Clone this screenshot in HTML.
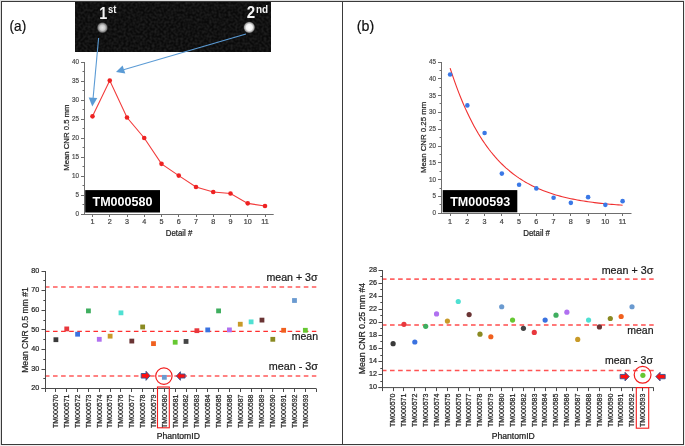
<!DOCTYPE html>
<html><head><meta charset="utf-8"><title>CNR figure</title>
<style>
html,body{margin:0;padding:0;background:#fff;}
body{width:685px;height:446px;overflow:hidden;}
svg{display:block;font-family:"Liberation Sans", sans-serif;will-change:transform;}
</style></head>
<body>
<svg width="685" height="446" viewBox="0 0 685 446" font-family='"Liberation Sans", sans-serif'>
<rect x="0" y="0" width="685" height="446" fill="#fff"/>
<rect x="0" y="0" width="685" height="1" fill="#dedede"/>
<rect x="0" y="0" width="1" height="446" fill="#dedede"/>
<rect x="684" y="0" width="1" height="446" fill="#efefef"/>
<rect x="0" y="445" width="685" height="1" fill="#efefef"/>
<rect x="1.5" y="1.5" width="682" height="443" fill="none" stroke="#3a3a3a" stroke-width="1"/>
<line x1="342.5" y1="1" x2="342.5" y2="445" stroke="#3a3a3a" stroke-width="1"/>
<text stroke="#111" stroke-width="0.22" x="9.6" y="31.3" font-size="15" fill="#111" textLength="16.6" lengthAdjust="spacingAndGlyphs">(a)</text>
<text stroke="#111" stroke-width="0.22" x="356.8" y="31.3" font-size="15" fill="#111" textLength="17.4" lengthAdjust="spacingAndGlyphs">(b)</text>
<defs><radialGradient id="d1"><stop offset="0" stop-color="#e4e4e4"/><stop offset="0.45" stop-color="#c8c8c8"/><stop offset="0.75" stop-color="#7a7a7a"/><stop offset="1" stop-color="#1a1a1a" stop-opacity="0"/></radialGradient><radialGradient id="d2"><stop offset="0" stop-color="#ffffff"/><stop offset="0.5" stop-color="#f2f2f2"/><stop offset="0.78" stop-color="#9a9a9a"/><stop offset="1" stop-color="#1a1a1a" stop-opacity="0"/></radialGradient><filter id="nz" x="0" y="0" width="1" height="1"><feTurbulence type="fractalNoise" baseFrequency="0.42" numOctaves="1" seed="3"/><feColorMatrix values="0 0 0 0 0.18  0 0 0 0 0.18  0 0 0 0 0.18  0 0 0 -1.6 1.1"/></filter></defs>
<rect x="75" y="2" width="196" height="50" fill="#0a0a0a"/>
<rect x="75" y="2" width="196" height="50" filter="url(#nz)" opacity="0.26"/>
<circle cx="102.4" cy="27.7" r="6" fill="url(#d1)"/>
<circle cx="249.3" cy="27.4" r="6.3" fill="url(#d2)"/>
<text x="99.3" y="18.9" font-size="16.5" font-weight="bold" fill="#f4f4f4" textLength="8" lengthAdjust="spacingAndGlyphs">1</text>
<text x="108" y="12.9" font-size="10.2" font-weight="bold" fill="#f4f4f4" textLength="8.4" lengthAdjust="spacingAndGlyphs">st</text>
<text x="246.8" y="18.3" font-size="15.8" font-weight="bold" fill="#f4f4f4" textLength="8.4" lengthAdjust="spacingAndGlyphs">2</text>
<text x="256" y="12.9" font-size="10.2" font-weight="bold" fill="#f4f4f4" textLength="12.2" lengthAdjust="spacingAndGlyphs">nd</text>
<line x1="84.5" y1="62" x2="84.5" y2="214" stroke="#6e6e6e" stroke-width="1"/>
<line x1="81" y1="214.5" x2="84.5" y2="214.5" stroke="#6e6e6e" stroke-width="1"/>
<text stroke="#4a4a4a" stroke-width="0.22" x="79" y="215.9" font-size="7.6" fill="#4a4a4a" text-anchor="end" textLength="3.5" lengthAdjust="spacingAndGlyphs">0</text>
<line x1="81" y1="195.5" x2="84.5" y2="195.5" stroke="#6e6e6e" stroke-width="1"/>
<text stroke="#4a4a4a" stroke-width="0.22" x="79" y="196.9" font-size="7.6" fill="#4a4a4a" text-anchor="end" textLength="3.5" lengthAdjust="spacingAndGlyphs">5</text>
<line x1="81" y1="176.5" x2="84.5" y2="176.5" stroke="#6e6e6e" stroke-width="1"/>
<text stroke="#4a4a4a" stroke-width="0.22" x="79" y="177.9" font-size="7.6" fill="#4a4a4a" text-anchor="end" textLength="7" lengthAdjust="spacingAndGlyphs">10</text>
<line x1="81" y1="157.5" x2="84.5" y2="157.5" stroke="#6e6e6e" stroke-width="1"/>
<text stroke="#4a4a4a" stroke-width="0.22" x="79" y="158.9" font-size="7.6" fill="#4a4a4a" text-anchor="end" textLength="7" lengthAdjust="spacingAndGlyphs">15</text>
<line x1="81" y1="138.5" x2="84.5" y2="138.5" stroke="#6e6e6e" stroke-width="1"/>
<text stroke="#4a4a4a" stroke-width="0.22" x="79" y="139.9" font-size="7.6" fill="#4a4a4a" text-anchor="end" textLength="7" lengthAdjust="spacingAndGlyphs">20</text>
<line x1="81" y1="119.5" x2="84.5" y2="119.5" stroke="#6e6e6e" stroke-width="1"/>
<text stroke="#4a4a4a" stroke-width="0.22" x="79" y="120.9" font-size="7.6" fill="#4a4a4a" text-anchor="end" textLength="7" lengthAdjust="spacingAndGlyphs">25</text>
<line x1="81" y1="100.5" x2="84.5" y2="100.5" stroke="#6e6e6e" stroke-width="1"/>
<text stroke="#4a4a4a" stroke-width="0.22" x="79" y="101.9" font-size="7.6" fill="#4a4a4a" text-anchor="end" textLength="7" lengthAdjust="spacingAndGlyphs">30</text>
<line x1="81" y1="81.5" x2="84.5" y2="81.5" stroke="#6e6e6e" stroke-width="1"/>
<text stroke="#4a4a4a" stroke-width="0.22" x="79" y="82.9" font-size="7.6" fill="#4a4a4a" text-anchor="end" textLength="7" lengthAdjust="spacingAndGlyphs">35</text>
<line x1="81" y1="62.5" x2="84.5" y2="62.5" stroke="#6e6e6e" stroke-width="1"/>
<text stroke="#4a4a4a" stroke-width="0.22" x="79" y="63.9" font-size="7.6" fill="#4a4a4a" text-anchor="end" textLength="7" lengthAdjust="spacingAndGlyphs">40</text>
<line x1="82.5" y1="204.5" x2="84.5" y2="204.5" stroke="#6e6e6e" stroke-width="1"/>
<line x1="82.5" y1="185.5" x2="84.5" y2="185.5" stroke="#6e6e6e" stroke-width="1"/>
<line x1="82.5" y1="166.5" x2="84.5" y2="166.5" stroke="#6e6e6e" stroke-width="1"/>
<line x1="82.5" y1="147.5" x2="84.5" y2="147.5" stroke="#6e6e6e" stroke-width="1"/>
<line x1="82.5" y1="128.5" x2="84.5" y2="128.5" stroke="#6e6e6e" stroke-width="1"/>
<line x1="82.5" y1="109.5" x2="84.5" y2="109.5" stroke="#6e6e6e" stroke-width="1"/>
<line x1="82.5" y1="90.5" x2="84.5" y2="90.5" stroke="#6e6e6e" stroke-width="1"/>
<line x1="82.5" y1="71.5" x2="84.5" y2="71.5" stroke="#6e6e6e" stroke-width="1"/>
<line x1="81" y1="214.5" x2="273.7" y2="214.5" stroke="#6e6e6e" stroke-width="1"/>
<line x1="92.5" y1="214.5" x2="92.5" y2="217" stroke="#6e6e6e" stroke-width="1"/>
<line x1="109.5" y1="214.5" x2="109.5" y2="217" stroke="#6e6e6e" stroke-width="1"/>
<line x1="127.5" y1="214.5" x2="127.5" y2="217" stroke="#6e6e6e" stroke-width="1"/>
<line x1="144.5" y1="214.5" x2="144.5" y2="217" stroke="#6e6e6e" stroke-width="1"/>
<line x1="161.5" y1="214.5" x2="161.5" y2="217" stroke="#6e6e6e" stroke-width="1"/>
<line x1="178.5" y1="214.5" x2="178.5" y2="217" stroke="#6e6e6e" stroke-width="1"/>
<line x1="196.5" y1="214.5" x2="196.5" y2="217" stroke="#6e6e6e" stroke-width="1"/>
<line x1="213.5" y1="214.5" x2="213.5" y2="217" stroke="#6e6e6e" stroke-width="1"/>
<line x1="230.5" y1="214.5" x2="230.5" y2="217" stroke="#6e6e6e" stroke-width="1"/>
<line x1="247.5" y1="214.5" x2="247.5" y2="217" stroke="#6e6e6e" stroke-width="1"/>
<line x1="265.5" y1="214.5" x2="265.5" y2="217" stroke="#6e6e6e" stroke-width="1"/>
<text stroke="#444" stroke-width="0.22" x="92.5" y="224" font-size="7.2" fill="#444" text-anchor="middle">1</text>
<text stroke="#444" stroke-width="0.22" x="109.75" y="224" font-size="7.2" fill="#444" text-anchor="middle">2</text>
<text stroke="#444" stroke-width="0.22" x="127" y="224" font-size="7.2" fill="#444" text-anchor="middle">3</text>
<text stroke="#444" stroke-width="0.22" x="144.25" y="224" font-size="7.2" fill="#444" text-anchor="middle">4</text>
<text stroke="#444" stroke-width="0.22" x="161.5" y="224" font-size="7.2" fill="#444" text-anchor="middle">5</text>
<text stroke="#444" stroke-width="0.22" x="178.75" y="224" font-size="7.2" fill="#444" text-anchor="middle">6</text>
<text stroke="#444" stroke-width="0.22" x="196" y="224" font-size="7.2" fill="#444" text-anchor="middle">7</text>
<text stroke="#444" stroke-width="0.22" x="213.25" y="224" font-size="7.2" fill="#444" text-anchor="middle">8</text>
<text stroke="#444" stroke-width="0.22" x="230.5" y="224" font-size="7.2" fill="#444" text-anchor="middle">9</text>
<text stroke="#444" stroke-width="0.22" x="247.75" y="224" font-size="7.2" fill="#444" text-anchor="middle">10</text>
<text stroke="#444" stroke-width="0.22" x="265" y="224" font-size="7.2" fill="#444" text-anchor="middle">11</text>
<text stroke="#222" stroke-width="0.22" x="179.1" y="236.1" font-size="8.3" fill="#222" text-anchor="middle" textLength="26.6" lengthAdjust="spacingAndGlyphs">Detail #</text>
<text stroke="#222" stroke-width="0.22" x="0" y="0" transform="translate(68.5,137.65) rotate(-90)" font-size="7.7" fill="#222" text-anchor="middle" textLength="66.3" lengthAdjust="spacingAndGlyphs">Mean CNR 0.5 mm</text>
<polyline points="92.5,116.34 109.75,80.62 127,117.48 144.25,138 161.5,163.84 178.75,175.62 196,187.02 213.25,191.96 230.5,193.48 247.75,203.36 265,206.02" fill="none" stroke="#f23c3c" stroke-width="1.1"/>
<circle cx="92.5" cy="116.34" r="2.3" fill="#ee2222"/>
<circle cx="109.75" cy="80.62" r="2.3" fill="#ee2222"/>
<circle cx="127" cy="117.48" r="2.3" fill="#ee2222"/>
<circle cx="144.25" cy="138" r="2.3" fill="#ee2222"/>
<circle cx="161.5" cy="163.84" r="2.3" fill="#ee2222"/>
<circle cx="178.75" cy="175.62" r="2.3" fill="#ee2222"/>
<circle cx="196" cy="187.02" r="2.3" fill="#ee2222"/>
<circle cx="213.25" cy="191.96" r="2.3" fill="#ee2222"/>
<circle cx="230.5" cy="193.48" r="2.3" fill="#ee2222"/>
<circle cx="247.75" cy="203.36" r="2.3" fill="#ee2222"/>
<circle cx="265" cy="206.02" r="2.3" fill="#ee2222"/>
<rect x="85.2" y="190.1" width="74.8" height="22.4" fill="#000"/>
<text x="122.5" y="205.5" font-size="12.5" font-weight="bold" fill="#fff" text-anchor="middle" textLength="60" lengthAdjust="spacingAndGlyphs">TM000580</text>
<line x1="98.6" y1="38" x2="93.1" y2="98" stroke="#5b9bd5" stroke-width="1.1"/>
<polygon points="88.7,97.4 97.3,98.1 92.3,106.4" fill="#5b9bd5"/>
<line x1="246" y1="34" x2="123.5" y2="69.8" stroke="#5b9bd5" stroke-width="1.1"/>
<polygon points="116,71.9 122.6,65.6 125.3,73.6" fill="#5b9bd5"/>
<line x1="441.5" y1="62" x2="441.5" y2="213.2" stroke="#6e6e6e" stroke-width="1"/>
<line x1="438" y1="213.5" x2="441.5" y2="213.5" stroke="#6e6e6e" stroke-width="1"/>
<text stroke="#4a4a4a" stroke-width="0.22" x="436" y="215.1" font-size="7.6" fill="#4a4a4a" text-anchor="end" textLength="3.5" lengthAdjust="spacingAndGlyphs">0</text>
<line x1="438" y1="196.5" x2="441.5" y2="196.5" stroke="#6e6e6e" stroke-width="1"/>
<text stroke="#4a4a4a" stroke-width="0.22" x="436" y="198.3" font-size="7.6" fill="#4a4a4a" text-anchor="end" textLength="3.5" lengthAdjust="spacingAndGlyphs">5</text>
<line x1="438" y1="179.5" x2="441.5" y2="179.5" stroke="#6e6e6e" stroke-width="1"/>
<text stroke="#4a4a4a" stroke-width="0.22" x="436" y="181.5" font-size="7.6" fill="#4a4a4a" text-anchor="end" textLength="7" lengthAdjust="spacingAndGlyphs">10</text>
<line x1="438" y1="162.5" x2="441.5" y2="162.5" stroke="#6e6e6e" stroke-width="1"/>
<text stroke="#4a4a4a" stroke-width="0.22" x="436" y="164.7" font-size="7.6" fill="#4a4a4a" text-anchor="end" textLength="7" lengthAdjust="spacingAndGlyphs">15</text>
<line x1="438" y1="146.5" x2="441.5" y2="146.5" stroke="#6e6e6e" stroke-width="1"/>
<text stroke="#4a4a4a" stroke-width="0.22" x="436" y="147.9" font-size="7.6" fill="#4a4a4a" text-anchor="end" textLength="7" lengthAdjust="spacingAndGlyphs">20</text>
<line x1="438" y1="129.5" x2="441.5" y2="129.5" stroke="#6e6e6e" stroke-width="1"/>
<text stroke="#4a4a4a" stroke-width="0.22" x="436" y="131.1" font-size="7.6" fill="#4a4a4a" text-anchor="end" textLength="7" lengthAdjust="spacingAndGlyphs">25</text>
<line x1="438" y1="112.5" x2="441.5" y2="112.5" stroke="#6e6e6e" stroke-width="1"/>
<text stroke="#4a4a4a" stroke-width="0.22" x="436" y="114.3" font-size="7.6" fill="#4a4a4a" text-anchor="end" textLength="7" lengthAdjust="spacingAndGlyphs">30</text>
<line x1="438" y1="95.5" x2="441.5" y2="95.5" stroke="#6e6e6e" stroke-width="1"/>
<text stroke="#4a4a4a" stroke-width="0.22" x="436" y="97.5" font-size="7.6" fill="#4a4a4a" text-anchor="end" textLength="7" lengthAdjust="spacingAndGlyphs">35</text>
<line x1="438" y1="78.5" x2="441.5" y2="78.5" stroke="#6e6e6e" stroke-width="1"/>
<text stroke="#4a4a4a" stroke-width="0.22" x="436" y="80.7" font-size="7.6" fill="#4a4a4a" text-anchor="end" textLength="7" lengthAdjust="spacingAndGlyphs">40</text>
<line x1="438" y1="62.5" x2="441.5" y2="62.5" stroke="#6e6e6e" stroke-width="1"/>
<text stroke="#4a4a4a" stroke-width="0.22" x="436" y="63.9" font-size="7.6" fill="#4a4a4a" text-anchor="end" textLength="7" lengthAdjust="spacingAndGlyphs">45</text>
<line x1="439.5" y1="204.5" x2="441.5" y2="204.5" stroke="#6e6e6e" stroke-width="1"/>
<line x1="439.5" y1="188.5" x2="441.5" y2="188.5" stroke="#6e6e6e" stroke-width="1"/>
<line x1="439.5" y1="171.5" x2="441.5" y2="171.5" stroke="#6e6e6e" stroke-width="1"/>
<line x1="439.5" y1="154.5" x2="441.5" y2="154.5" stroke="#6e6e6e" stroke-width="1"/>
<line x1="439.5" y1="137.5" x2="441.5" y2="137.5" stroke="#6e6e6e" stroke-width="1"/>
<line x1="439.5" y1="120.5" x2="441.5" y2="120.5" stroke="#6e6e6e" stroke-width="1"/>
<line x1="439.5" y1="103.5" x2="441.5" y2="103.5" stroke="#6e6e6e" stroke-width="1"/>
<line x1="439.5" y1="87.5" x2="441.5" y2="87.5" stroke="#6e6e6e" stroke-width="1"/>
<line x1="439.5" y1="70.5" x2="441.5" y2="70.5" stroke="#6e6e6e" stroke-width="1"/>
<line x1="438" y1="213.5" x2="631.5" y2="213.5" stroke="#6e6e6e" stroke-width="1"/>
<line x1="450.5" y1="213.5" x2="450.5" y2="216" stroke="#6e6e6e" stroke-width="1"/>
<line x1="467.5" y1="213.5" x2="467.5" y2="216" stroke="#6e6e6e" stroke-width="1"/>
<line x1="484.5" y1="213.5" x2="484.5" y2="216" stroke="#6e6e6e" stroke-width="1"/>
<line x1="501.5" y1="213.5" x2="501.5" y2="216" stroke="#6e6e6e" stroke-width="1"/>
<line x1="519.5" y1="213.5" x2="519.5" y2="216" stroke="#6e6e6e" stroke-width="1"/>
<line x1="536.5" y1="213.5" x2="536.5" y2="216" stroke="#6e6e6e" stroke-width="1"/>
<line x1="553.5" y1="213.5" x2="553.5" y2="216" stroke="#6e6e6e" stroke-width="1"/>
<line x1="570.5" y1="213.5" x2="570.5" y2="216" stroke="#6e6e6e" stroke-width="1"/>
<line x1="588.5" y1="213.5" x2="588.5" y2="216" stroke="#6e6e6e" stroke-width="1"/>
<line x1="605.5" y1="213.5" x2="605.5" y2="216" stroke="#6e6e6e" stroke-width="1"/>
<line x1="622.5" y1="213.5" x2="622.5" y2="216" stroke="#6e6e6e" stroke-width="1"/>
<text stroke="#444" stroke-width="0.22" x="450.1" y="224" font-size="7.2" fill="#444" text-anchor="middle">1</text>
<text stroke="#444" stroke-width="0.22" x="467.35" y="224" font-size="7.2" fill="#444" text-anchor="middle">2</text>
<text stroke="#444" stroke-width="0.22" x="484.6" y="224" font-size="7.2" fill="#444" text-anchor="middle">3</text>
<text stroke="#444" stroke-width="0.22" x="501.85" y="224" font-size="7.2" fill="#444" text-anchor="middle">4</text>
<text stroke="#444" stroke-width="0.22" x="519.1" y="224" font-size="7.2" fill="#444" text-anchor="middle">5</text>
<text stroke="#444" stroke-width="0.22" x="536.35" y="224" font-size="7.2" fill="#444" text-anchor="middle">6</text>
<text stroke="#444" stroke-width="0.22" x="553.6" y="224" font-size="7.2" fill="#444" text-anchor="middle">7</text>
<text stroke="#444" stroke-width="0.22" x="570.85" y="224" font-size="7.2" fill="#444" text-anchor="middle">8</text>
<text stroke="#444" stroke-width="0.22" x="588.1" y="224" font-size="7.2" fill="#444" text-anchor="middle">9</text>
<text stroke="#444" stroke-width="0.22" x="605.35" y="224" font-size="7.2" fill="#444" text-anchor="middle">10</text>
<text stroke="#444" stroke-width="0.22" x="622.6" y="224" font-size="7.2" fill="#444" text-anchor="middle">11</text>
<text stroke="#222" stroke-width="0.22" x="536.6" y="236.1" font-size="8.3" fill="#222" text-anchor="middle" textLength="26.8" lengthAdjust="spacingAndGlyphs">Detail #</text>
<text stroke="#222" stroke-width="0.22" x="0" y="0" transform="translate(426.2,137.4) rotate(-90)" font-size="7.8" fill="#222" text-anchor="middle" textLength="71.2" lengthAdjust="spacingAndGlyphs">Mean CNR 0.25 mm</text>
<polyline points="450.1,68.05 452.26,74.63 454.41,80.91 456.57,86.88 458.73,92.58 460.88,98.01 463.04,103.19 465.19,108.12 467.35,112.82 469.51,117.3 471.66,121.57 473.82,125.64 475.98,129.52 478.13,133.21 480.29,136.73 482.44,140.09 484.6,143.29 486.76,146.33 488.91,149.24 491.07,152.01 493.23,154.65 495.38,157.16 497.54,159.56 499.69,161.84 501.85,164.02 504.01,166.09 506.16,168.07 508.32,169.95 510.48,171.75 512.63,173.46 514.79,175.09 516.94,176.64 519.1,178.12 521.26,179.53 523.41,180.88 525.57,182.16 527.73,183.38 529.88,184.55 532.04,185.66 534.19,186.71 536.35,187.72 538.51,188.68 540.66,189.6 542.82,190.47 544.98,191.3 547.13,192.09 549.29,192.85 551.44,193.57 553.6,194.25 555.76,194.91 557.91,195.53 560.07,196.12 562.23,196.69 564.38,197.23 566.54,197.74 568.69,198.23 570.85,198.7 573.01,199.14 575.16,199.56 577.32,199.97 579.48,200.35 581.63,200.72 583.79,201.07 585.94,201.4 588.1,201.72 590.26,202.02 592.41,202.31 594.57,202.59 596.73,202.85 598.88,203.1 601.04,203.34 603.19,203.56 605.35,203.78 607.51,203.98 609.66,204.18 611.82,204.37 613.98,204.55 616.13,204.72 618.29,204.88 620.44,205.03 622.6,205.18" fill="none" stroke="#f03030" stroke-width="1.1"/>
<circle cx="450.1" cy="74.5" r="2.3" fill="#3a78e6"/>
<circle cx="467.35" cy="105.41" r="2.3" fill="#3a78e6"/>
<circle cx="484.6" cy="132.96" r="2.3" fill="#3a78e6"/>
<circle cx="501.85" cy="173.62" r="2.3" fill="#3a78e6"/>
<circle cx="519.1" cy="184.7" r="2.3" fill="#3a78e6"/>
<circle cx="536.35" cy="188.4" r="2.3" fill="#3a78e6"/>
<circle cx="553.6" cy="197.81" r="2.3" fill="#3a78e6"/>
<circle cx="570.85" cy="202.85" r="2.3" fill="#3a78e6"/>
<circle cx="588.1" cy="197.14" r="2.3" fill="#3a78e6"/>
<circle cx="605.35" cy="204.86" r="2.3" fill="#3a78e6"/>
<circle cx="622.6" cy="201.17" r="2.3" fill="#3a78e6"/>
<rect x="442.7" y="190.1" width="74.6" height="22.2" fill="#000"/>
<text x="480.2" y="205.6" font-size="12.5" font-weight="bold" fill="#fff" text-anchor="middle" textLength="60" lengthAdjust="spacingAndGlyphs">TM000593</text>
<line x1="45.5" y1="271.1" x2="45.5" y2="388.5" stroke="#4a4a4a" stroke-width="1"/>
<line x1="41.5" y1="388.5" x2="45.5" y2="388.5" stroke="#4a4a4a" stroke-width="1"/>
<text stroke="#222" stroke-width="0.22" x="39.2" y="390.4" font-size="8.0" fill="#222" text-anchor="end" textLength="8" lengthAdjust="spacingAndGlyphs">20</text>
<line x1="41.5" y1="369.5" x2="45.5" y2="369.5" stroke="#4a4a4a" stroke-width="1"/>
<text stroke="#222" stroke-width="0.22" x="39.2" y="370.8" font-size="8.0" fill="#222" text-anchor="end" textLength="8" lengthAdjust="spacingAndGlyphs">30</text>
<line x1="41.5" y1="349.5" x2="45.5" y2="349.5" stroke="#4a4a4a" stroke-width="1"/>
<text stroke="#222" stroke-width="0.22" x="39.2" y="351.2" font-size="8.0" fill="#222" text-anchor="end" textLength="8" lengthAdjust="spacingAndGlyphs">40</text>
<line x1="41.5" y1="329.5" x2="45.5" y2="329.5" stroke="#4a4a4a" stroke-width="1"/>
<text stroke="#222" stroke-width="0.22" x="39.2" y="331.6" font-size="8.0" fill="#222" text-anchor="end" textLength="8" lengthAdjust="spacingAndGlyphs">50</text>
<line x1="41.5" y1="310.5" x2="45.5" y2="310.5" stroke="#4a4a4a" stroke-width="1"/>
<text stroke="#222" stroke-width="0.22" x="39.2" y="312" font-size="8.0" fill="#222" text-anchor="end" textLength="8" lengthAdjust="spacingAndGlyphs">60</text>
<line x1="41.5" y1="290.5" x2="45.5" y2="290.5" stroke="#4a4a4a" stroke-width="1"/>
<text stroke="#222" stroke-width="0.22" x="39.2" y="292.4" font-size="8.0" fill="#222" text-anchor="end" textLength="8" lengthAdjust="spacingAndGlyphs">70</text>
<line x1="41.5" y1="271.5" x2="45.5" y2="271.5" stroke="#4a4a4a" stroke-width="1"/>
<text stroke="#222" stroke-width="0.22" x="39.2" y="272.8" font-size="8.0" fill="#222" text-anchor="end" textLength="8" lengthAdjust="spacingAndGlyphs">80</text>
<line x1="43.3" y1="378.5" x2="45.5" y2="378.5" stroke="#4a4a4a" stroke-width="1"/>
<line x1="43.3" y1="359.5" x2="45.5" y2="359.5" stroke="#4a4a4a" stroke-width="1"/>
<line x1="43.3" y1="339.5" x2="45.5" y2="339.5" stroke="#4a4a4a" stroke-width="1"/>
<line x1="43.3" y1="320.5" x2="45.5" y2="320.5" stroke="#4a4a4a" stroke-width="1"/>
<line x1="43.3" y1="300.5" x2="45.5" y2="300.5" stroke="#4a4a4a" stroke-width="1"/>
<line x1="43.3" y1="280.5" x2="45.5" y2="280.5" stroke="#4a4a4a" stroke-width="1"/>
<text stroke="#222" stroke-width="0.22" x="0" y="0" transform="translate(58.2,394.5) rotate(-90)" font-size="7" fill="#222" text-anchor="end" textLength="33.5" lengthAdjust="spacingAndGlyphs">TM000570</text>
<text stroke="#222" stroke-width="0.22" x="0" y="0" transform="translate(69.05,394.5) rotate(-90)" font-size="7" fill="#222" text-anchor="end" textLength="33.5" lengthAdjust="spacingAndGlyphs">TM000571</text>
<text stroke="#222" stroke-width="0.22" x="0" y="0" transform="translate(79.89,394.5) rotate(-90)" font-size="7" fill="#222" text-anchor="end" textLength="33.5" lengthAdjust="spacingAndGlyphs">TM000572</text>
<text stroke="#222" stroke-width="0.22" x="0" y="0" transform="translate(90.73,394.5) rotate(-90)" font-size="7" fill="#222" text-anchor="end" textLength="33.5" lengthAdjust="spacingAndGlyphs">TM000573</text>
<text stroke="#222" stroke-width="0.22" x="0" y="0" transform="translate(101.58,394.5) rotate(-90)" font-size="7" fill="#222" text-anchor="end" textLength="33.5" lengthAdjust="spacingAndGlyphs">TM000574</text>
<text stroke="#222" stroke-width="0.22" x="0" y="0" transform="translate(112.42,394.5) rotate(-90)" font-size="7" fill="#222" text-anchor="end" textLength="33.5" lengthAdjust="spacingAndGlyphs">TM000575</text>
<text stroke="#222" stroke-width="0.22" x="0" y="0" transform="translate(123.27,394.5) rotate(-90)" font-size="7" fill="#222" text-anchor="end" textLength="33.5" lengthAdjust="spacingAndGlyphs">TM000576</text>
<text stroke="#222" stroke-width="0.22" x="0" y="0" transform="translate(134.12,394.5) rotate(-90)" font-size="7" fill="#222" text-anchor="end" textLength="33.5" lengthAdjust="spacingAndGlyphs">TM000577</text>
<text stroke="#222" stroke-width="0.22" x="0" y="0" transform="translate(144.96,394.5) rotate(-90)" font-size="7" fill="#222" text-anchor="end" textLength="33.5" lengthAdjust="spacingAndGlyphs">TM000578</text>
<text stroke="#222" stroke-width="0.22" x="0" y="0" transform="translate(155.81,394.5) rotate(-90)" font-size="7" fill="#222" text-anchor="end" textLength="33.5" lengthAdjust="spacingAndGlyphs">TM000579</text>
<text stroke="#222" stroke-width="0.22" x="0" y="0" transform="translate(166.65,394.5) rotate(-90)" font-size="7" fill="#222" text-anchor="end" textLength="33.5" lengthAdjust="spacingAndGlyphs">TM000580</text>
<text stroke="#222" stroke-width="0.22" x="0" y="0" transform="translate(177.5,394.5) rotate(-90)" font-size="7" fill="#222" text-anchor="end" textLength="33.5" lengthAdjust="spacingAndGlyphs">TM000581</text>
<text stroke="#222" stroke-width="0.22" x="0" y="0" transform="translate(188.34,394.5) rotate(-90)" font-size="7" fill="#222" text-anchor="end" textLength="33.5" lengthAdjust="spacingAndGlyphs">TM000582</text>
<text stroke="#222" stroke-width="0.22" x="0" y="0" transform="translate(199.19,394.5) rotate(-90)" font-size="7" fill="#222" text-anchor="end" textLength="33.5" lengthAdjust="spacingAndGlyphs">TM000583</text>
<text stroke="#222" stroke-width="0.22" x="0" y="0" transform="translate(210.03,394.5) rotate(-90)" font-size="7" fill="#222" text-anchor="end" textLength="33.5" lengthAdjust="spacingAndGlyphs">TM000584</text>
<text stroke="#222" stroke-width="0.22" x="0" y="0" transform="translate(220.88,394.5) rotate(-90)" font-size="7" fill="#222" text-anchor="end" textLength="33.5" lengthAdjust="spacingAndGlyphs">TM000585</text>
<text stroke="#222" stroke-width="0.22" x="0" y="0" transform="translate(231.72,394.5) rotate(-90)" font-size="7" fill="#222" text-anchor="end" textLength="33.5" lengthAdjust="spacingAndGlyphs">TM000586</text>
<text stroke="#222" stroke-width="0.22" x="0" y="0" transform="translate(242.57,394.5) rotate(-90)" font-size="7" fill="#222" text-anchor="end" textLength="33.5" lengthAdjust="spacingAndGlyphs">TM000587</text>
<text stroke="#222" stroke-width="0.22" x="0" y="0" transform="translate(253.41,394.5) rotate(-90)" font-size="7" fill="#222" text-anchor="end" textLength="33.5" lengthAdjust="spacingAndGlyphs">TM000588</text>
<text stroke="#222" stroke-width="0.22" x="0" y="0" transform="translate(264.25,394.5) rotate(-90)" font-size="7" fill="#222" text-anchor="end" textLength="33.5" lengthAdjust="spacingAndGlyphs">TM000589</text>
<text stroke="#222" stroke-width="0.22" x="0" y="0" transform="translate(275.1,394.5) rotate(-90)" font-size="7" fill="#222" text-anchor="end" textLength="33.5" lengthAdjust="spacingAndGlyphs">TM000590</text>
<text stroke="#222" stroke-width="0.22" x="0" y="0" transform="translate(285.94,394.5) rotate(-90)" font-size="7" fill="#222" text-anchor="end" textLength="33.5" lengthAdjust="spacingAndGlyphs">TM000591</text>
<text stroke="#222" stroke-width="0.22" x="0" y="0" transform="translate(296.79,394.5) rotate(-90)" font-size="7" fill="#222" text-anchor="end" textLength="33.5" lengthAdjust="spacingAndGlyphs">TM000592</text>
<text stroke="#222" stroke-width="0.22" x="0" y="0" transform="translate(307.63,394.5) rotate(-90)" font-size="7" fill="#222" text-anchor="end" textLength="33.5" lengthAdjust="spacingAndGlyphs">TM000593</text>
<line x1="44.9" y1="287" x2="316.31" y2="287" stroke="#ff8282" stroke-width="2.0" stroke-dasharray="4.6 3.49"/>
<line x1="44.9" y1="331.4" x2="316.31" y2="331.4" stroke="#ff2e2e" stroke-width="1.4" stroke-dasharray="4.6 3.49"/>
<line x1="44.9" y1="376" x2="316.31" y2="376" stroke="#ff8282" stroke-width="2.0" stroke-dasharray="4.6 3.49"/>
<rect x="53.5" y="337.3" width="4.8" height="4.8" fill="#3a3a3a"/>
<rect x="64.34" y="326.52" width="4.8" height="4.8" fill="#e8383d"/>
<rect x="75.19" y="331.81" width="4.8" height="4.8" fill="#3a72e0"/>
<rect x="86.03" y="308.49" width="4.8" height="4.8" fill="#3fae5f"/>
<rect x="96.88" y="336.91" width="4.8" height="4.8" fill="#b070f0"/>
<rect x="107.72" y="333.77" width="4.8" height="4.8" fill="#c89a28"/>
<rect x="118.57" y="310.45" width="4.8" height="4.8" fill="#4fe0d2"/>
<rect x="129.41" y="338.67" width="4.8" height="4.8" fill="#6a3434"/>
<rect x="140.26" y="324.56" width="4.8" height="4.8" fill="#8a8a22"/>
<rect x="151.1" y="341.22" width="4.8" height="4.8" fill="#f0601e"/>
<rect x="161.95" y="374.93" width="4.8" height="4.8" fill="#6a9ad0"/>
<rect x="172.79" y="339.85" width="4.8" height="4.8" fill="#66c832"/>
<rect x="183.64" y="339.06" width="4.8" height="4.8" fill="#444444"/>
<rect x="194.49" y="328.28" width="4.8" height="4.8" fill="#e8383d"/>
<rect x="205.33" y="327.5" width="4.8" height="4.8" fill="#3a72e0"/>
<rect x="216.18" y="308.49" width="4.8" height="4.8" fill="#3fae5f"/>
<rect x="227.02" y="327.5" width="4.8" height="4.8" fill="#b070f0"/>
<rect x="237.87" y="321.82" width="4.8" height="4.8" fill="#c89a28"/>
<rect x="248.71" y="319.46" width="4.8" height="4.8" fill="#4fe0d2"/>
<rect x="259.56" y="317.7" width="4.8" height="4.8" fill="#6a3434"/>
<rect x="270.4" y="336.91" width="4.8" height="4.8" fill="#8a8a22"/>
<rect x="281.25" y="327.89" width="4.8" height="4.8" fill="#f0601e"/>
<rect x="292.09" y="298.1" width="4.8" height="4.8" fill="#6a9ad0"/>
<rect x="302.94" y="327.89" width="4.8" height="4.8" fill="#66c832"/>
<line x1="45.5" y1="271.1" x2="45.5" y2="388.5" stroke="#4a4a4a" stroke-width="1"/>
<line x1="41.5" y1="388.5" x2="316.18" y2="388.5" stroke="#4a4a4a" stroke-width="1"/>
<line x1="45.5" y1="388.5" x2="45.5" y2="392" stroke="#4a4a4a" stroke-width="1"/>
<line x1="55.5" y1="388.5" x2="55.5" y2="392" stroke="#4a4a4a" stroke-width="1"/>
<line x1="66.5" y1="388.5" x2="66.5" y2="392" stroke="#4a4a4a" stroke-width="1"/>
<line x1="77.5" y1="388.5" x2="77.5" y2="392" stroke="#4a4a4a" stroke-width="1"/>
<line x1="88.5" y1="388.5" x2="88.5" y2="392" stroke="#4a4a4a" stroke-width="1"/>
<line x1="99.5" y1="388.5" x2="99.5" y2="392" stroke="#4a4a4a" stroke-width="1"/>
<line x1="110.5" y1="388.5" x2="110.5" y2="392" stroke="#4a4a4a" stroke-width="1"/>
<line x1="120.5" y1="388.5" x2="120.5" y2="392" stroke="#4a4a4a" stroke-width="1"/>
<line x1="131.5" y1="388.5" x2="131.5" y2="392" stroke="#4a4a4a" stroke-width="1"/>
<line x1="142.5" y1="388.5" x2="142.5" y2="392" stroke="#4a4a4a" stroke-width="1"/>
<line x1="153.5" y1="388.5" x2="153.5" y2="392" stroke="#4a4a4a" stroke-width="1"/>
<line x1="164.5" y1="388.5" x2="164.5" y2="392" stroke="#4a4a4a" stroke-width="1"/>
<line x1="175.5" y1="388.5" x2="175.5" y2="392" stroke="#4a4a4a" stroke-width="1"/>
<line x1="186.5" y1="388.5" x2="186.5" y2="392" stroke="#4a4a4a" stroke-width="1"/>
<line x1="196.5" y1="388.5" x2="196.5" y2="392" stroke="#4a4a4a" stroke-width="1"/>
<line x1="207.5" y1="388.5" x2="207.5" y2="392" stroke="#4a4a4a" stroke-width="1"/>
<line x1="218.5" y1="388.5" x2="218.5" y2="392" stroke="#4a4a4a" stroke-width="1"/>
<line x1="229.5" y1="388.5" x2="229.5" y2="392" stroke="#4a4a4a" stroke-width="1"/>
<line x1="240.5" y1="388.5" x2="240.5" y2="392" stroke="#4a4a4a" stroke-width="1"/>
<line x1="251.5" y1="388.5" x2="251.5" y2="392" stroke="#4a4a4a" stroke-width="1"/>
<line x1="261.5" y1="388.5" x2="261.5" y2="392" stroke="#4a4a4a" stroke-width="1"/>
<line x1="272.5" y1="388.5" x2="272.5" y2="392" stroke="#4a4a4a" stroke-width="1"/>
<line x1="283.5" y1="388.5" x2="283.5" y2="392" stroke="#4a4a4a" stroke-width="1"/>
<line x1="294.5" y1="388.5" x2="294.5" y2="392" stroke="#4a4a4a" stroke-width="1"/>
<line x1="305.5" y1="388.5" x2="305.5" y2="392" stroke="#4a4a4a" stroke-width="1"/>
<line x1="316.5" y1="388.5" x2="316.5" y2="392" stroke="#4a4a4a" stroke-width="1"/>
<text stroke="#1a1a1a" stroke-width="0.22" x="317.6" y="280.7" font-size="10.8" fill="#1a1a1a" text-anchor="end" textLength="51.2" lengthAdjust="spacingAndGlyphs">mean + 3σ</text>
<text stroke="#1a1a1a" stroke-width="0.22" x="318" y="339.7" font-size="10.8" fill="#1a1a1a" text-anchor="end" textLength="26.3" lengthAdjust="spacingAndGlyphs">mean</text>
<text stroke="#1a1a1a" stroke-width="0.22" x="318" y="370.2" font-size="10.8" fill="#1a1a1a" text-anchor="end" textLength="49.2" lengthAdjust="spacingAndGlyphs">mean - 3σ</text>
<circle cx="163.9" cy="376.1" r="8.2" fill="none" stroke="#f21d1d" stroke-width="1.2"/>
<polygon points="141.2,373.5 146,373.5 146,371.25 150.1,375.8 146,380.35 146,378.1 141.2,378.1" fill="#ff1010" stroke="#34558f" stroke-width="0.9" stroke-linejoin="miter"/>
<polygon points="185.1,374 180.4,374 180.4,371.7 176.4,376 180.4,380.3 180.4,378 185.1,378" fill="#ff1010" stroke="#34558f" stroke-width="0.9" stroke-linejoin="miter"/>
<rect x="157.5" y="387" width="11.8" height="40.8" fill="none" stroke="#f21d1d" stroke-width="1.1"/>
<text stroke="#1a1a1a" stroke-width="0.22" x="178.35" y="439.2" font-size="8.4" fill="#1a1a1a" text-anchor="middle" textLength="43.1" lengthAdjust="spacingAndGlyphs">PhantomID</text>
<text stroke="#222" stroke-width="0.22" x="0" y="0" transform="translate(27.8,330) rotate(-90)" font-size="8.7" fill="#222" text-anchor="middle" textLength="85.6" lengthAdjust="spacingAndGlyphs">Mean CNR 0.5 mm #1</text>
<line x1="382.5" y1="270.16" x2="382.5" y2="387.6" stroke="#4a4a4a" stroke-width="1"/>
<line x1="378.5" y1="387.5" x2="382.5" y2="387.5" stroke="#4a4a4a" stroke-width="1"/>
<text stroke="#222" stroke-width="0.22" x="376.9" y="389.4" font-size="8.0" fill="#222" text-anchor="end" textLength="8" lengthAdjust="spacingAndGlyphs">10</text>
<line x1="378.5" y1="374.5" x2="382.5" y2="374.5" stroke="#4a4a4a" stroke-width="1"/>
<text stroke="#222" stroke-width="0.22" x="376.9" y="376.34" font-size="8.0" fill="#222" text-anchor="end" textLength="8" lengthAdjust="spacingAndGlyphs">12</text>
<line x1="378.5" y1="361.5" x2="382.5" y2="361.5" stroke="#4a4a4a" stroke-width="1"/>
<text stroke="#222" stroke-width="0.22" x="376.9" y="363.28" font-size="8.0" fill="#222" text-anchor="end" textLength="8" lengthAdjust="spacingAndGlyphs">14</text>
<line x1="378.5" y1="348.5" x2="382.5" y2="348.5" stroke="#4a4a4a" stroke-width="1"/>
<text stroke="#222" stroke-width="0.22" x="376.9" y="350.22" font-size="8.0" fill="#222" text-anchor="end" textLength="8" lengthAdjust="spacingAndGlyphs">16</text>
<line x1="378.5" y1="335.5" x2="382.5" y2="335.5" stroke="#4a4a4a" stroke-width="1"/>
<text stroke="#222" stroke-width="0.22" x="376.9" y="337.16" font-size="8.0" fill="#222" text-anchor="end" textLength="8" lengthAdjust="spacingAndGlyphs">18</text>
<line x1="378.5" y1="322.5" x2="382.5" y2="322.5" stroke="#4a4a4a" stroke-width="1"/>
<text stroke="#222" stroke-width="0.22" x="376.9" y="324.1" font-size="8.0" fill="#222" text-anchor="end" textLength="8" lengthAdjust="spacingAndGlyphs">20</text>
<line x1="378.5" y1="309.5" x2="382.5" y2="309.5" stroke="#4a4a4a" stroke-width="1"/>
<text stroke="#222" stroke-width="0.22" x="376.9" y="311.04" font-size="8.0" fill="#222" text-anchor="end" textLength="8" lengthAdjust="spacingAndGlyphs">22</text>
<line x1="378.5" y1="296.5" x2="382.5" y2="296.5" stroke="#4a4a4a" stroke-width="1"/>
<text stroke="#222" stroke-width="0.22" x="376.9" y="297.98" font-size="8.0" fill="#222" text-anchor="end" textLength="8" lengthAdjust="spacingAndGlyphs">24</text>
<line x1="378.5" y1="283.5" x2="382.5" y2="283.5" stroke="#4a4a4a" stroke-width="1"/>
<text stroke="#222" stroke-width="0.22" x="376.9" y="284.92" font-size="8.0" fill="#222" text-anchor="end" textLength="8" lengthAdjust="spacingAndGlyphs">26</text>
<line x1="378.5" y1="270.5" x2="382.5" y2="270.5" stroke="#4a4a4a" stroke-width="1"/>
<text stroke="#222" stroke-width="0.22" x="376.9" y="271.86" font-size="8.0" fill="#222" text-anchor="end" textLength="8" lengthAdjust="spacingAndGlyphs">28</text>
<line x1="380.3" y1="381.5" x2="382.5" y2="381.5" stroke="#4a4a4a" stroke-width="1"/>
<line x1="380.3" y1="368.5" x2="382.5" y2="368.5" stroke="#4a4a4a" stroke-width="1"/>
<line x1="380.3" y1="355.5" x2="382.5" y2="355.5" stroke="#4a4a4a" stroke-width="1"/>
<line x1="380.3" y1="341.5" x2="382.5" y2="341.5" stroke="#4a4a4a" stroke-width="1"/>
<line x1="380.3" y1="328.5" x2="382.5" y2="328.5" stroke="#4a4a4a" stroke-width="1"/>
<line x1="380.3" y1="315.5" x2="382.5" y2="315.5" stroke="#4a4a4a" stroke-width="1"/>
<line x1="380.3" y1="302.5" x2="382.5" y2="302.5" stroke="#4a4a4a" stroke-width="1"/>
<line x1="380.3" y1="289.5" x2="382.5" y2="289.5" stroke="#4a4a4a" stroke-width="1"/>
<line x1="380.3" y1="276.5" x2="382.5" y2="276.5" stroke="#4a4a4a" stroke-width="1"/>
<text stroke="#222" stroke-width="0.22" x="0" y="0" transform="translate(395.4,393.6) rotate(-90)" font-size="7" fill="#222" text-anchor="end" textLength="33.5" lengthAdjust="spacingAndGlyphs">TM000570</text>
<text stroke="#222" stroke-width="0.22" x="0" y="0" transform="translate(406.26,393.6) rotate(-90)" font-size="7" fill="#222" text-anchor="end" textLength="33.5" lengthAdjust="spacingAndGlyphs">TM000571</text>
<text stroke="#222" stroke-width="0.22" x="0" y="0" transform="translate(417.12,393.6) rotate(-90)" font-size="7" fill="#222" text-anchor="end" textLength="33.5" lengthAdjust="spacingAndGlyphs">TM000572</text>
<text stroke="#222" stroke-width="0.22" x="0" y="0" transform="translate(427.98,393.6) rotate(-90)" font-size="7" fill="#222" text-anchor="end" textLength="33.5" lengthAdjust="spacingAndGlyphs">TM000573</text>
<text stroke="#222" stroke-width="0.22" x="0" y="0" transform="translate(438.84,393.6) rotate(-90)" font-size="7" fill="#222" text-anchor="end" textLength="33.5" lengthAdjust="spacingAndGlyphs">TM000574</text>
<text stroke="#222" stroke-width="0.22" x="0" y="0" transform="translate(449.7,393.6) rotate(-90)" font-size="7" fill="#222" text-anchor="end" textLength="33.5" lengthAdjust="spacingAndGlyphs">TM000575</text>
<text stroke="#222" stroke-width="0.22" x="0" y="0" transform="translate(460.56,393.6) rotate(-90)" font-size="7" fill="#222" text-anchor="end" textLength="33.5" lengthAdjust="spacingAndGlyphs">TM000576</text>
<text stroke="#222" stroke-width="0.22" x="0" y="0" transform="translate(471.42,393.6) rotate(-90)" font-size="7" fill="#222" text-anchor="end" textLength="33.5" lengthAdjust="spacingAndGlyphs">TM000577</text>
<text stroke="#222" stroke-width="0.22" x="0" y="0" transform="translate(482.28,393.6) rotate(-90)" font-size="7" fill="#222" text-anchor="end" textLength="33.5" lengthAdjust="spacingAndGlyphs">TM000578</text>
<text stroke="#222" stroke-width="0.22" x="0" y="0" transform="translate(493.14,393.6) rotate(-90)" font-size="7" fill="#222" text-anchor="end" textLength="33.5" lengthAdjust="spacingAndGlyphs">TM000579</text>
<text stroke="#222" stroke-width="0.22" x="0" y="0" transform="translate(504,393.6) rotate(-90)" font-size="7" fill="#222" text-anchor="end" textLength="33.5" lengthAdjust="spacingAndGlyphs">TM000580</text>
<text stroke="#222" stroke-width="0.22" x="0" y="0" transform="translate(514.86,393.6) rotate(-90)" font-size="7" fill="#222" text-anchor="end" textLength="33.5" lengthAdjust="spacingAndGlyphs">TM000581</text>
<text stroke="#222" stroke-width="0.22" x="0" y="0" transform="translate(525.72,393.6) rotate(-90)" font-size="7" fill="#222" text-anchor="end" textLength="33.5" lengthAdjust="spacingAndGlyphs">TM000582</text>
<text stroke="#222" stroke-width="0.22" x="0" y="0" transform="translate(536.58,393.6) rotate(-90)" font-size="7" fill="#222" text-anchor="end" textLength="33.5" lengthAdjust="spacingAndGlyphs">TM000583</text>
<text stroke="#222" stroke-width="0.22" x="0" y="0" transform="translate(547.44,393.6) rotate(-90)" font-size="7" fill="#222" text-anchor="end" textLength="33.5" lengthAdjust="spacingAndGlyphs">TM000584</text>
<text stroke="#222" stroke-width="0.22" x="0" y="0" transform="translate(558.3,393.6) rotate(-90)" font-size="7" fill="#222" text-anchor="end" textLength="33.5" lengthAdjust="spacingAndGlyphs">TM000585</text>
<text stroke="#222" stroke-width="0.22" x="0" y="0" transform="translate(569.16,393.6) rotate(-90)" font-size="7" fill="#222" text-anchor="end" textLength="33.5" lengthAdjust="spacingAndGlyphs">TM000586</text>
<text stroke="#222" stroke-width="0.22" x="0" y="0" transform="translate(580.02,393.6) rotate(-90)" font-size="7" fill="#222" text-anchor="end" textLength="33.5" lengthAdjust="spacingAndGlyphs">TM000587</text>
<text stroke="#222" stroke-width="0.22" x="0" y="0" transform="translate(590.88,393.6) rotate(-90)" font-size="7" fill="#222" text-anchor="end" textLength="33.5" lengthAdjust="spacingAndGlyphs">TM000588</text>
<text stroke="#222" stroke-width="0.22" x="0" y="0" transform="translate(601.74,393.6) rotate(-90)" font-size="7" fill="#222" text-anchor="end" textLength="33.5" lengthAdjust="spacingAndGlyphs">TM000589</text>
<text stroke="#222" stroke-width="0.22" x="0" y="0" transform="translate(612.6,393.6) rotate(-90)" font-size="7" fill="#222" text-anchor="end" textLength="33.5" lengthAdjust="spacingAndGlyphs">TM000590</text>
<text stroke="#222" stroke-width="0.22" x="0" y="0" transform="translate(623.46,393.6) rotate(-90)" font-size="7" fill="#222" text-anchor="end" textLength="33.5" lengthAdjust="spacingAndGlyphs">TM000591</text>
<text stroke="#222" stroke-width="0.22" x="0" y="0" transform="translate(634.32,393.6) rotate(-90)" font-size="7" fill="#222" text-anchor="end" textLength="33.5" lengthAdjust="spacingAndGlyphs">TM000592</text>
<text stroke="#222" stroke-width="0.22" x="0" y="0" transform="translate(645.18,393.6) rotate(-90)" font-size="7" fill="#222" text-anchor="end" textLength="33.5" lengthAdjust="spacingAndGlyphs">TM000593</text>
<line x1="381.9" y1="279.1" x2="653.7" y2="279.1" stroke="#ff6464" stroke-width="1.7" stroke-dasharray="4.6 3.5"/>
<line x1="381.9" y1="325" x2="653.7" y2="325" stroke="#ff7878" stroke-width="1.8" stroke-dasharray="4.6 3.5"/>
<line x1="381.9" y1="370.6" x2="653.7" y2="370.6" stroke="#ff5252" stroke-width="1.5" stroke-dasharray="4.6 3.5"/>
<circle cx="393.1" cy="343.69" r="2.6" fill="#3a3a3a"/>
<circle cx="403.96" cy="324.36" r="2.6" fill="#e8383d"/>
<circle cx="414.82" cy="341.99" r="2.6" fill="#3a72e0"/>
<circle cx="425.68" cy="326.32" r="2.6" fill="#3fae5f"/>
<circle cx="436.54" cy="313.91" r="2.6" fill="#b070f0"/>
<circle cx="447.4" cy="321.09" r="2.6" fill="#c89a28"/>
<circle cx="458.26" cy="301.5" r="2.6" fill="#4fe0d2"/>
<circle cx="469.12" cy="314.56" r="2.6" fill="#6a3434"/>
<circle cx="479.98" cy="334.15" r="2.6" fill="#8a8a22"/>
<circle cx="490.84" cy="336.77" r="2.6" fill="#f0601e"/>
<circle cx="501.7" cy="306.73" r="2.6" fill="#6a9ad0"/>
<circle cx="512.56" cy="320.11" r="2.6" fill="#66c832"/>
<circle cx="523.42" cy="328.28" r="2.6" fill="#444444"/>
<circle cx="534.28" cy="332.39" r="2.6" fill="#e8383d"/>
<circle cx="545.14" cy="320.11" r="2.6" fill="#3a72e0"/>
<circle cx="556" cy="315.22" r="2.6" fill="#3fae5f"/>
<circle cx="566.86" cy="312.21" r="2.6" fill="#b070f0"/>
<circle cx="577.72" cy="339.38" r="2.6" fill="#c89a28"/>
<circle cx="588.58" cy="320.11" r="2.6" fill="#4fe0d2"/>
<circle cx="599.44" cy="326.97" r="2.6" fill="#6a3434"/>
<circle cx="610.3" cy="318.48" r="2.6" fill="#8a8a22"/>
<circle cx="621.16" cy="316.52" r="2.6" fill="#f0601e"/>
<circle cx="632.02" cy="306.73" r="2.6" fill="#6a9ad0"/>
<circle cx="642.88" cy="375.29" r="2.6" fill="#66c832"/>
<line x1="382.5" y1="270.16" x2="382.5" y2="387.6" stroke="#4a4a4a" stroke-width="1"/>
<line x1="378.5" y1="387.6" x2="653.74" y2="387.6" stroke="#4a4a4a" stroke-width="1"/>
<line x1="382.5" y1="387.6" x2="382.5" y2="391.1" stroke="#4a4a4a" stroke-width="1"/>
<line x1="393.5" y1="387.6" x2="393.5" y2="391.1" stroke="#4a4a4a" stroke-width="1"/>
<line x1="403.5" y1="387.6" x2="403.5" y2="391.1" stroke="#4a4a4a" stroke-width="1"/>
<line x1="414.5" y1="387.6" x2="414.5" y2="391.1" stroke="#4a4a4a" stroke-width="1"/>
<line x1="425.5" y1="387.6" x2="425.5" y2="391.1" stroke="#4a4a4a" stroke-width="1"/>
<line x1="436.5" y1="387.6" x2="436.5" y2="391.1" stroke="#4a4a4a" stroke-width="1"/>
<line x1="447.5" y1="387.6" x2="447.5" y2="391.1" stroke="#4a4a4a" stroke-width="1"/>
<line x1="458.5" y1="387.6" x2="458.5" y2="391.1" stroke="#4a4a4a" stroke-width="1"/>
<line x1="469.5" y1="387.6" x2="469.5" y2="391.1" stroke="#4a4a4a" stroke-width="1"/>
<line x1="479.5" y1="387.6" x2="479.5" y2="391.1" stroke="#4a4a4a" stroke-width="1"/>
<line x1="490.5" y1="387.6" x2="490.5" y2="391.1" stroke="#4a4a4a" stroke-width="1"/>
<line x1="501.5" y1="387.6" x2="501.5" y2="391.1" stroke="#4a4a4a" stroke-width="1"/>
<line x1="512.5" y1="387.6" x2="512.5" y2="391.1" stroke="#4a4a4a" stroke-width="1"/>
<line x1="523.5" y1="387.6" x2="523.5" y2="391.1" stroke="#4a4a4a" stroke-width="1"/>
<line x1="534.5" y1="387.6" x2="534.5" y2="391.1" stroke="#4a4a4a" stroke-width="1"/>
<line x1="545.5" y1="387.6" x2="545.5" y2="391.1" stroke="#4a4a4a" stroke-width="1"/>
<line x1="556.5" y1="387.6" x2="556.5" y2="391.1" stroke="#4a4a4a" stroke-width="1"/>
<line x1="566.5" y1="387.6" x2="566.5" y2="391.1" stroke="#4a4a4a" stroke-width="1"/>
<line x1="577.5" y1="387.6" x2="577.5" y2="391.1" stroke="#4a4a4a" stroke-width="1"/>
<line x1="588.5" y1="387.6" x2="588.5" y2="391.1" stroke="#4a4a4a" stroke-width="1"/>
<line x1="599.5" y1="387.6" x2="599.5" y2="391.1" stroke="#4a4a4a" stroke-width="1"/>
<line x1="610.5" y1="387.6" x2="610.5" y2="391.1" stroke="#4a4a4a" stroke-width="1"/>
<line x1="621.5" y1="387.6" x2="621.5" y2="391.1" stroke="#4a4a4a" stroke-width="1"/>
<line x1="632.5" y1="387.6" x2="632.5" y2="391.1" stroke="#4a4a4a" stroke-width="1"/>
<line x1="642.5" y1="387.6" x2="642.5" y2="391.1" stroke="#4a4a4a" stroke-width="1"/>
<line x1="653.5" y1="387.6" x2="653.5" y2="391.1" stroke="#4a4a4a" stroke-width="1"/>
<text stroke="#1a1a1a" stroke-width="0.22" x="653.3" y="273.8" font-size="10.8" fill="#1a1a1a" text-anchor="end" textLength="51.6" lengthAdjust="spacingAndGlyphs">mean + 3σ</text>
<text stroke="#1a1a1a" stroke-width="0.22" x="653.5" y="333.9" font-size="10.8" fill="#1a1a1a" text-anchor="end" textLength="26.3" lengthAdjust="spacingAndGlyphs">mean</text>
<text stroke="#1a1a1a" stroke-width="0.22" x="652.9" y="364.2" font-size="10.8" fill="#1a1a1a" text-anchor="end" textLength="48" lengthAdjust="spacingAndGlyphs">mean - 3σ</text>
<circle cx="642.6" cy="374.8" r="8.4" fill="none" stroke="#f21d1d" stroke-width="1.2"/>
<polygon points="620.1,374.45 625,374.45 625,372.3 629.3,376.6 625,380.9 625,378.75 620.1,378.75" fill="#ff1010" stroke="#34558f" stroke-width="0.9" stroke-linejoin="miter"/>
<polygon points="665.2,374.45 660.1,374.45 660.1,372.3 655.8,376.6 660.1,380.9 660.1,378.75 665.2,378.75" fill="#ff1010" stroke="#34558f" stroke-width="0.9" stroke-linejoin="miter"/>
<rect x="636.3" y="387.6" width="12.4" height="40.6" fill="none" stroke="#f21d1d" stroke-width="1.1"/>
<text stroke="#1a1a1a" stroke-width="0.22" x="513.3" y="439.2" font-size="8.4" fill="#1a1a1a" text-anchor="middle" textLength="43.1" lengthAdjust="spacingAndGlyphs">PhantomID</text>
<text stroke="#222" stroke-width="0.22" x="0" y="0" transform="translate(365,328.6) rotate(-90)" font-size="8.7" fill="#222" text-anchor="middle" textLength="91.4" lengthAdjust="spacingAndGlyphs">Mean CNR 0.25 mm #4</text>
</svg>
</body></html>
